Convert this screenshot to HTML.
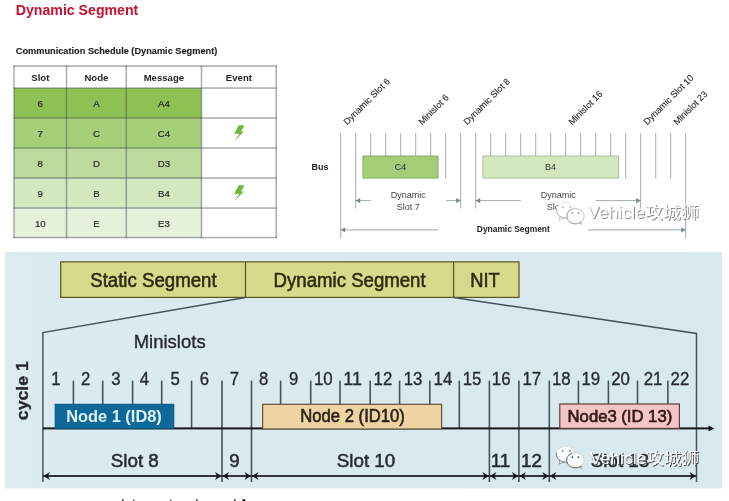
<!DOCTYPE html>
<html><head><meta charset="utf-8"><title>Dynamic Segment</title>
<style>
html,body{margin:0;padding:0;background:#fff;}
body{width:729px;height:501px;overflow:hidden;position:relative;font-family:"Liberation Sans","Noto Sans CJK SC",sans-serif;}
svg{position:absolute;left:0;top:0;display:block}
text{font-family:"Liberation Sans","Noto Sans CJK SC",sans-serif}
.b{font-weight:bold}
.m{text-anchor:middle}
</style></head><body>
<svg width="729" height="501" viewBox="0 0 729 501">
<defs>
<linearGradient id="bg" x1="0" x2="1" y1="0" y2="0"><stop offset="0" stop-color="#dbebf0"/><stop offset="0.5" stop-color="#d9e9ef"/><stop offset="1" stop-color="#d7e8ee"/></linearGradient>
<filter id="soft" x="-2%" y="-2%" width="104%" height="104%"><feGaussianBlur stdDeviation="0.6"/></filter>
</defs>

<text x="15.8" y="15.2" class="b" font-size="14.8" fill="#c5112f" textLength="122.5" lengthAdjust="spacingAndGlyphs">Dynamic Segment</text>
<text x="15.8" y="53.5" class="b" font-size="9.7" fill="#1f1f1f" stroke="#1f1f1f" stroke-width="0.15" textLength="201.5" lengthAdjust="spacingAndGlyphs">Communication Schedule (Dynamic Segment)</text>
<rect x="14" y="88" width="187.5" height="30" fill="#8ec154"/>
<rect x="14" y="118" width="187.5" height="30" fill="#a6cf7a"/>
<rect x="14" y="148" width="187.5" height="30" fill="#bcdb9c"/>
<rect x="14" y="178" width="187.5" height="30" fill="#d4e8bf"/>
<rect x="14" y="208" width="187.5" height="29.5" fill="#e5f1d9"/>
<rect x="13.3" y="65.3" width="263.6" height="1.5" fill="rgba(66,76,82,0.46)"/>
<rect x="13.3" y="87.3" width="263.6" height="1.5" fill="rgba(66,76,82,0.46)"/>
<rect x="13.3" y="117.3" width="263.6" height="1.5" fill="rgba(66,76,82,0.46)"/>
<rect x="13.3" y="147.3" width="263.6" height="1.5" fill="rgba(66,76,82,0.46)"/>
<rect x="13.3" y="177.3" width="263.6" height="1.5" fill="rgba(66,76,82,0.46)"/>
<rect x="13.3" y="207.3" width="263.6" height="1.5" fill="rgba(66,76,82,0.46)"/>
<rect x="13.3" y="236.8" width="263.6" height="1.5" fill="rgba(66,76,82,0.46)"/>
<rect x="13.25" y="65.3" width="1.5" height="173" fill="rgba(66,76,82,0.46)"/>
<rect x="65.75" y="65.3" width="1.5" height="173" fill="rgba(66,76,82,0.46)"/>
<rect x="125.55" y="65.3" width="1.5" height="173" fill="rgba(66,76,82,0.46)"/>
<rect x="200.75" y="65.3" width="1.5" height="173" fill="rgba(66,76,82,0.46)"/>
<rect x="275.45" y="65.3" width="1.5" height="173" fill="rgba(66,76,82,0.46)"/>
<text x="40.3" y="81" class="b m" font-size="9.6" fill="#1f1f1f">Slot</text>
<text x="96.4" y="81" class="b m" font-size="9.6" fill="#1f1f1f">Node</text>
<text x="163.9" y="81" class="b m" font-size="9.6" fill="#1f1f1f">Message</text>
<text x="238.9" y="81" class="b m" font-size="9.6" fill="#1f1f1f">Event</text>
<text x="40.3" y="107.2" class="m" font-size="9.7" fill="#262626" stroke="#262626" stroke-width="0.18">6</text>
<text x="96.4" y="107.2" class="m" font-size="9.7" fill="#262626" stroke="#262626" stroke-width="0.18">A</text>
<text x="163.9" y="107.2" class="m" font-size="9.7" fill="#262626" stroke="#262626" stroke-width="0.18">A4</text>
<text x="40.3" y="137.2" class="m" font-size="9.7" fill="#262626" stroke="#262626" stroke-width="0.18">7</text>
<text x="96.4" y="137.2" class="m" font-size="9.7" fill="#262626" stroke="#262626" stroke-width="0.18">C</text>
<text x="163.9" y="137.2" class="m" font-size="9.7" fill="#262626" stroke="#262626" stroke-width="0.18">C4</text>
<text x="40.3" y="167.2" class="m" font-size="9.7" fill="#262626" stroke="#262626" stroke-width="0.18">8</text>
<text x="96.4" y="167.2" class="m" font-size="9.7" fill="#262626" stroke="#262626" stroke-width="0.18">D</text>
<text x="163.9" y="167.2" class="m" font-size="9.7" fill="#262626" stroke="#262626" stroke-width="0.18">D3</text>
<text x="40.3" y="197.2" class="m" font-size="9.7" fill="#262626" stroke="#262626" stroke-width="0.18">9</text>
<text x="96.4" y="197.2" class="m" font-size="9.7" fill="#262626" stroke="#262626" stroke-width="0.18">B</text>
<text x="163.9" y="197.2" class="m" font-size="9.7" fill="#262626" stroke="#262626" stroke-width="0.18">B4</text>
<text x="40.3" y="227.2" class="m" font-size="9.7" fill="#262626" stroke="#262626" stroke-width="0.18">10</text>
<text x="96.4" y="227.2" class="m" font-size="9.7" fill="#262626" stroke="#262626" stroke-width="0.18">E</text>
<text x="163.9" y="227.2" class="m" font-size="9.7" fill="#262626" stroke="#262626" stroke-width="0.18">E3</text>
<polygon fill="#6fb73f" points="238.7,125.2 244.4,125.2 241.1,131.6 243.9,131.6 234.2,141.3 239.2,133.9 234.2,133.7"/>
<polygon fill="#6fb73f" points="238.7,185.2 244.4,185.2 241.1,191.6 243.9,191.6 234.2,201.3 239.2,193.9 234.2,193.7"/>
<rect x="340.2" y="133" width="1" height="105.4" fill="#a3abaf"/>
<rect x="355.2" y="133" width="1" height="75.4" fill="#a3abaf"/>
<rect x="370.2" y="133" width="1" height="23" fill="#a3abaf"/>
<rect x="385.2" y="133" width="1" height="23" fill="#a3abaf"/>
<rect x="400.2" y="133" width="1" height="23" fill="#a3abaf"/>
<rect x="415.2" y="133" width="1" height="23" fill="#a3abaf"/>
<rect x="430.2" y="133" width="1" height="23" fill="#a3abaf"/>
<rect x="445.2" y="133" width="1" height="45.400000000000006" fill="#a3abaf"/>
<rect x="460.2" y="133" width="1" height="75.4" fill="#a3abaf"/>
<rect x="475.2" y="133" width="1" height="75.4" fill="#a3abaf"/>
<rect x="490.2" y="133" width="1" height="23" fill="#a3abaf"/>
<rect x="505.2" y="133" width="1" height="23" fill="#a3abaf"/>
<rect x="520.2" y="133" width="1" height="23" fill="#a3abaf"/>
<rect x="535.2" y="133" width="1" height="23" fill="#a3abaf"/>
<rect x="550.2" y="133" width="1" height="23" fill="#a3abaf"/>
<rect x="565.2" y="133" width="1" height="23" fill="#a3abaf"/>
<rect x="580.2" y="133" width="1" height="23" fill="#a3abaf"/>
<rect x="595.2" y="133" width="1" height="23" fill="#a3abaf"/>
<rect x="610.2" y="133" width="1" height="23" fill="#a3abaf"/>
<rect x="625.2" y="133" width="1" height="45.400000000000006" fill="#a3abaf"/>
<rect x="640.2" y="133" width="1" height="75.4" fill="#a3abaf"/>
<rect x="655.2" y="133" width="1" height="45.400000000000006" fill="#a3abaf"/>
<rect x="670.2" y="133" width="1" height="45.400000000000006" fill="#a3abaf"/>
<rect x="685.2" y="133" width="1" height="105.4" fill="#a3abaf"/>
<rect x="362.9" y="156" width="75.2" height="22.1" fill="#a4cd78" stroke="#7f9f62" stroke-width="0.8"/>
<rect x="482.9" y="156" width="135.7" height="22.1" fill="#d4e8bf" stroke="#9db08b" stroke-width="0.8"/>
<text x="400.6" y="170" class="m" font-size="9" fill="#2b2b2b">C4</text>
<text x="550.6" y="170" class="m" font-size="9" fill="#2b2b2b">B4</text>
<text x="311.5" y="169.9" class="b" font-size="9.6" fill="#222" textLength="17" lengthAdjust="spacingAndGlyphs">Bus</text>
<text transform="translate(347.2,125.5) rotate(-45)" font-size="9.15" fill="#2a2a2a" stroke="#2a2a2a" stroke-width="0.12">Dynamic Slot 6</text>
<text transform="translate(422.2,125.5) rotate(-45)" font-size="9.15" fill="#2a2a2a" stroke="#2a2a2a" stroke-width="0.12">Minislot 6</text>
<text transform="translate(467.2,125.5) rotate(-45)" font-size="9.15" fill="#2a2a2a" stroke="#2a2a2a" stroke-width="0.12">Dynamic Slot 8</text>
<text transform="translate(572.2,125.5) rotate(-45)" font-size="9.15" fill="#2a2a2a" stroke="#2a2a2a" stroke-width="0.12">Minislot 16</text>
<text transform="translate(647.2,125.5) rotate(-45)" font-size="9.15" fill="#2a2a2a" stroke="#2a2a2a" stroke-width="0.12">Dynamic Slot 10</text>
<text transform="translate(677.2,125.5) rotate(-45)" font-size="9.15" fill="#2a2a2a" stroke="#2a2a2a" stroke-width="0.12">Minislot 23</text>
<rect x="355.7" y="200.1" width="14.9" height="1" fill="#a3abaf"/><polygon fill="#7c878d" points="355.7,200.6 360.2,198.0 360.2,203.2"/>
<rect x="446.0" y="200.1" width="14.7" height="1" fill="#a3abaf"/><polygon fill="#7c878d" points="460.7,200.6 456.2,198.0 456.2,203.2"/>
<rect x="475.7" y="200.1" width="45.1" height="1" fill="#a3abaf"/><polygon fill="#7c878d" points="475.7,200.6 480.2,198.0 480.2,203.2"/>
<rect x="595.8" y="200.1" width="44.9" height="1" fill="#a3abaf"/><polygon fill="#7c878d" points="640.7,200.6 636.2,198.0 636.2,203.2"/>
<rect x="340.7" y="229.4" width="97.6" height="1" fill="#a3abaf"/><polygon fill="#7c878d" points="340.7,229.9 345.2,227.3 345.2,232.5"/>
<rect x="587.8" y="229.4" width="97.9" height="1" fill="#a3abaf"/><polygon fill="#7c878d" points="685.7,229.9 681.2,227.3 681.2,232.5"/>
<text x="408.2" y="198.3" class="m" font-size="9" fill="#444">Dynamic</text>
<text x="408.2" y="209.6" class="m" font-size="9" fill="#444">Slot 7</text>
<text x="558.2" y="198.3" class="m" font-size="9" fill="#444">Dynamic</text>
<text x="558.2" y="209.6" class="m" font-size="9" fill="#444">Slot 9</text>
<text x="476.8" y="232.2" class="b" font-size="9" fill="#222" textLength="73" lengthAdjust="spacingAndGlyphs">Dynamic Segment</text>
<g transform="translate(556.6,202.6)"><path d="M3.6 13 L2.6 17.6 L8.4 15 Z" fill="#fff" stroke="#9a9a9a" stroke-width="0.6" stroke-opacity="0.8"/><ellipse cx="9.2" cy="7.6" rx="9.3" ry="7.9" fill="#fff" stroke="#9a9a9a" stroke-width="0.5" stroke-opacity="0.45"/><path d="M0.04 6.2 A9.3 7.9 0 0 0 10.8 15.4" fill="none" stroke="#9a9a9a" stroke-width="0.8" stroke-opacity="0.85"/><path d="M22 19.2 L25 22 L24.6 17.4 Z" fill="#fff" stroke="#9a9a9a" stroke-width="0.6" stroke-opacity="0.8"/><ellipse cx="18.9" cy="13.6" rx="8.7" ry="7.7" fill="#fff" stroke="#9a9a9a" stroke-width="0.6" stroke-opacity="0.8999999999999999"/><path d="M15.9 6.4 A8.7 7.7 0 1 0 24.5 19.5" fill="none" stroke="#9a9a9a" stroke-width="0.9" stroke-opacity="0.9"/><circle cx="6.2" cy="4.4" r="0.9" fill="#9a9a9a" opacity="0.8"/><circle cx="13.6" cy="4.4" r="0.9" fill="#9a9a9a" opacity="0.8"/><circle cx="15.9" cy="10.6" r="0.9" fill="#9a9a9a"/><circle cx="22" cy="10.6" r="0.9" fill="#9a9a9a"/></g><text x="588.5" y="219.29999999999998" font-size="16" fill="#8b8b8b" textLength="111.3" lengthAdjust="spacingAndGlyphs">Vehicle攻城狮</text><text x="587.6" y="218.4" font-size="16" fill="#fff" textLength="111.3" lengthAdjust="spacingAndGlyphs">Vehicle攻城狮</text>
<g filter="url(#soft)">
<rect x="5" y="252" width="717" height="236.4" fill="url(#bg)"/>
<rect x="60.7" y="261.9" width="458.3" height="35.5" fill="#d8da8b" stroke="#55541f" stroke-width="1.2"/>
<rect x="244.9" y="261.9" width="1.2" height="35.5" fill="#55541f"/>
<rect x="453" y="261.9" width="1.2" height="35.5" fill="#55541f"/>
<text x="90.2" y="286.5" font-size="20.2" fill="#2b2b0e" stroke="#2b2b0e" stroke-width="0.55" textLength="126.5" lengthAdjust="spacingAndGlyphs">Static Segment</text>
<text x="273.6" y="286.5" font-size="20.2" fill="#2b2b0e" stroke="#2b2b0e" stroke-width="0.55" textLength="152" lengthAdjust="spacingAndGlyphs">Dynamic Segment</text>
<text x="470.2" y="286.5" font-size="20.2" fill="#2b2b0e" stroke="#2b2b0e" stroke-width="0.55" textLength="29.5" lengthAdjust="spacingAndGlyphs">NIT</text>
<polyline points="245.5,297.6 42.9,332.6 42.9,482" fill="none" stroke="#46535c" stroke-width="1.5"/>
<polyline points="453.6,297.6 696.5,333.5 696.5,482" fill="none" stroke="#46535c" stroke-width="1.5"/>
<text x="133.7" y="348.2" font-size="18.4" fill="#262b2f" stroke="#262b2f" stroke-width="0.35" textLength="72" lengthAdjust="spacingAndGlyphs">Minislots</text>
<text transform="translate(28.4,420.2) rotate(-90)" class="b" font-size="15.6" fill="#262b2f" stroke="#262b2f" stroke-width="0.3" textLength="59" lengthAdjust="spacingAndGlyphs">cycle 1</text>
<rect x="72.6" y="380.6" width="1.6" height="47.39999999999998" fill="#46535c"/>
<rect x="101.9" y="380.6" width="1.6" height="47.39999999999998" fill="#46535c"/>
<rect x="131.8" y="380.6" width="1.6" height="47.39999999999998" fill="#46535c"/>
<rect x="160.9" y="380.6" width="1.6" height="47.39999999999998" fill="#46535c"/>
<rect x="190.8" y="380.6" width="1.6" height="47.39999999999998" fill="#46535c"/>
<rect x="221.2" y="380.6" width="1.6" height="101.39999999999998" fill="#46535c"/>
<rect x="250.7" y="380.6" width="1.6" height="101.39999999999998" fill="#46535c"/>
<rect x="279.8" y="380.6" width="1.6" height="47.39999999999998" fill="#46535c"/>
<rect x="309.9" y="380.6" width="1.6" height="47.39999999999998" fill="#46535c"/>
<rect x="339.2" y="380.6" width="1.6" height="47.39999999999998" fill="#46535c"/>
<rect x="369.4" y="380.6" width="1.6" height="47.39999999999998" fill="#46535c"/>
<rect x="398.8" y="380.6" width="1.6" height="47.39999999999998" fill="#46535c"/>
<rect x="429.0" y="380.6" width="1.6" height="47.39999999999998" fill="#46535c"/>
<rect x="458.5" y="380.6" width="1.6" height="47.39999999999998" fill="#46535c"/>
<rect x="488.6" y="380.6" width="1.6" height="101.39999999999998" fill="#46535c"/>
<rect x="518.1" y="380.6" width="1.6" height="101.39999999999998" fill="#46535c"/>
<rect x="548.5" y="380.6" width="1.6" height="101.39999999999998" fill="#46535c"/>
<rect x="577.6" y="380.6" width="1.6" height="47.39999999999998" fill="#46535c"/>
<rect x="607.6" y="380.6" width="1.6" height="47.39999999999998" fill="#46535c"/>
<rect x="636.7" y="380.6" width="1.6" height="47.39999999999998" fill="#46535c"/>
<rect x="667.1" y="380.6" width="1.6" height="47.39999999999998" fill="#46535c"/>
<text x="55.9" y="384.6" class="m" font-size="18.6" fill="#262b2f" stroke="#262b2f" stroke-width="0.35" textLength="9.3" lengthAdjust="spacingAndGlyphs">1</text>
<text x="85.6" y="384.6" class="m" font-size="18.6" fill="#262b2f" stroke="#262b2f" stroke-width="0.35" textLength="9.3" lengthAdjust="spacingAndGlyphs">2</text>
<text x="115.8" y="384.6" class="m" font-size="18.6" fill="#262b2f" stroke="#262b2f" stroke-width="0.35" textLength="9.3" lengthAdjust="spacingAndGlyphs">3</text>
<text x="144.4" y="384.6" class="m" font-size="18.6" fill="#262b2f" stroke="#262b2f" stroke-width="0.35" textLength="9.3" lengthAdjust="spacingAndGlyphs">4</text>
<text x="175.2" y="384.6" class="m" font-size="18.6" fill="#262b2f" stroke="#262b2f" stroke-width="0.35" textLength="9.3" lengthAdjust="spacingAndGlyphs">5</text>
<text x="204.3" y="384.6" class="m" font-size="18.6" fill="#262b2f" stroke="#262b2f" stroke-width="0.35" textLength="9.3" lengthAdjust="spacingAndGlyphs">6</text>
<text x="234.4" y="384.6" class="m" font-size="18.6" fill="#262b2f" stroke="#262b2f" stroke-width="0.35" textLength="9.3" lengthAdjust="spacingAndGlyphs">7</text>
<text x="263.6" y="384.6" class="m" font-size="18.6" fill="#262b2f" stroke="#262b2f" stroke-width="0.35" textLength="9.3" lengthAdjust="spacingAndGlyphs">8</text>
<text x="293.7" y="384.6" class="m" font-size="18.6" fill="#262b2f" stroke="#262b2f" stroke-width="0.35" textLength="9.3" lengthAdjust="spacingAndGlyphs">9</text>
<text x="323.3" y="384.6" class="m" font-size="18.6" fill="#262b2f" stroke="#262b2f" stroke-width="0.35" textLength="18.7" lengthAdjust="spacingAndGlyphs">10</text>
<text x="352.7" y="384.6" class="m" font-size="18.6" fill="#262b2f" stroke="#262b2f" stroke-width="0.35" textLength="18.7" lengthAdjust="spacingAndGlyphs">11</text>
<text x="382.9" y="384.6" class="m" font-size="18.6" fill="#262b2f" stroke="#262b2f" stroke-width="0.35" textLength="18.7" lengthAdjust="spacingAndGlyphs">12</text>
<text x="413.1" y="384.6" class="m" font-size="18.6" fill="#262b2f" stroke="#262b2f" stroke-width="0.35" textLength="18.7" lengthAdjust="spacingAndGlyphs">13</text>
<text x="442.9" y="384.6" class="m" font-size="18.6" fill="#262b2f" stroke="#262b2f" stroke-width="0.35" textLength="18.7" lengthAdjust="spacingAndGlyphs">14</text>
<text x="472.1" y="384.6" class="m" font-size="18.6" fill="#262b2f" stroke="#262b2f" stroke-width="0.35" textLength="18.7" lengthAdjust="spacingAndGlyphs">15</text>
<text x="501.2" y="384.6" class="m" font-size="18.6" fill="#262b2f" stroke="#262b2f" stroke-width="0.35" textLength="18.7" lengthAdjust="spacingAndGlyphs">16</text>
<text x="531.8" y="384.6" class="m" font-size="18.6" fill="#262b2f" stroke="#262b2f" stroke-width="0.35" textLength="18.7" lengthAdjust="spacingAndGlyphs">17</text>
<text x="561.3" y="384.6" class="m" font-size="18.6" fill="#262b2f" stroke="#262b2f" stroke-width="0.35" textLength="18.7" lengthAdjust="spacingAndGlyphs">18</text>
<text x="590.8" y="384.6" class="m" font-size="18.6" fill="#262b2f" stroke="#262b2f" stroke-width="0.35" textLength="18.7" lengthAdjust="spacingAndGlyphs">19</text>
<text x="620.6" y="384.6" class="m" font-size="18.6" fill="#262b2f" stroke="#262b2f" stroke-width="0.35" textLength="18.7" lengthAdjust="spacingAndGlyphs">20</text>
<text x="653.1" y="384.6" class="m" font-size="18.6" fill="#262b2f" stroke="#262b2f" stroke-width="0.35" textLength="18.7" lengthAdjust="spacingAndGlyphs">21</text>
<text x="679.9" y="384.6" class="m" font-size="18.6" fill="#262b2f" stroke="#262b2f" stroke-width="0.35" textLength="18.7" lengthAdjust="spacingAndGlyphs">22</text>
<rect x="42.9" y="427.4" width="666.1" height="2" fill="#15181a"/>
<polygon points="714.5,428.4 708.5,425.6 708.5,431.2" fill="#15181a"/>
<rect x="55.2" y="404.3" width="118.6" height="24.4" fill="#10699a" stroke="#0d5279" stroke-width="1"/>
<text x="66.2" y="422.4" class="b" font-size="16.6" fill="#dff2fc" textLength="95.6" lengthAdjust="spacingAndGlyphs">Node 1 (ID8)</text>
<rect x="262.6" y="404.3" width="179" height="24.7" fill="#efd3a4" stroke="#5e5238" stroke-width="1.2"/>
<text x="300.3" y="422.2" font-size="17.6" fill="#2a2418" stroke="#2a2418" stroke-width="0.6" textLength="104.6" lengthAdjust="spacingAndGlyphs">Node 2 (ID10)</text>
<rect x="559.8" y="404" width="119.6" height="24.4" fill="#f5c5c3" stroke="#5e3e3c" stroke-width="1.2"/>
<text x="567.6" y="421.7" font-size="17.4" fill="#351818" stroke="#351818" stroke-width="0.7" textLength="104.6" lengthAdjust="spacingAndGlyphs">Node3 (ID 13)</text>
<text x="134.8" y="467.2" class="m" font-size="18.8" fill="#262b2f" stroke="#262b2f" stroke-width="0.5">Slot 8</text>
<text x="234.4" y="467.2" class="m" font-size="18.8" fill="#262b2f" stroke="#262b2f" stroke-width="0.5">9</text>
<text x="366" y="467.2" class="m" font-size="18.8" fill="#262b2f" stroke="#262b2f" stroke-width="0.5">Slot 10</text>
<text x="500.5" y="467.2" class="m" font-size="18.8" fill="#262b2f" stroke="#262b2f" stroke-width="0.5">11</text>
<text x="531.5" y="467.2" class="m" font-size="18.8" fill="#262b2f" stroke="#262b2f" stroke-width="0.5">12</text>
<text x="620" y="467.2" class="m" font-size="18.8" fill="#262b2f" stroke="#262b2f" stroke-width="0.5">Slot 13</text>
<rect x="42.9" y="475" width="179.1" height="2" fill="#2d363b"/><polygon fill="#15181a" points="43.5,476 49.9,472 47.9,476 49.9,480"/><polygon fill="#15181a" points="221.4,476 215.0,472 217.0,476 215.0,480"/>
<rect x="222.0" y="475" width="29.5" height="2" fill="#2d363b"/><polygon fill="#15181a" points="222.6,476 229.0,472 227.0,476 229.0,480"/><polygon fill="#15181a" points="250.9,476 244.5,472 246.5,476 244.5,480"/>
<rect x="251.5" y="475" width="237.89999999999998" height="2" fill="#2d363b"/><polygon fill="#15181a" points="252.1,476 258.5,472 256.5,476 258.5,480"/><polygon fill="#15181a" points="488.79999999999995,476 482.4,472 484.4,476 482.4,480"/>
<rect x="489.4" y="475" width="29.5" height="2" fill="#2d363b"/><polygon fill="#15181a" points="490.0,476 496.4,472 494.4,476 496.4,480"/><polygon fill="#15181a" points="518.3,476 511.9,472 513.9,476 511.9,480"/>
<rect x="518.9" y="475" width="30.399999999999977" height="2" fill="#2d363b"/><polygon fill="#15181a" points="519.5,476 525.9,472 523.9,476 525.9,480"/><polygon fill="#15181a" points="548.6999999999999,476 542.3,472 544.3,476 542.3,480"/>
<rect x="549.3" y="475" width="147.20000000000005" height="2" fill="#2d363b"/><polygon fill="#15181a" points="549.9,476 556.3,472 554.3,476 556.3,480"/><polygon fill="#15181a" points="695.9,476 689.5,472 691.5,476 689.5,480"/>
</g>
<g transform="translate(556.4,446.6)"><path d="M3.6 13 L2.6 17.6 L8.4 15 Z" fill="#fff" stroke="#4a4f53" stroke-width="0.6" stroke-opacity="0.8"/><ellipse cx="9.2" cy="7.6" rx="9.3" ry="7.9" fill="#fff" stroke="#4a4f53" stroke-width="0.5" stroke-opacity="0.25"/><path d="M0.04 6.2 A9.3 7.9 0 0 0 10.8 15.4" fill="none" stroke="#4a4f53" stroke-width="0.8" stroke-opacity="0.85"/><path d="M22 19.2 L25 22 L24.6 17.4 Z" fill="#fff" stroke="#4a4f53" stroke-width="0.6" stroke-opacity="0.8"/><ellipse cx="18.9" cy="13.6" rx="8.7" ry="7.7" fill="#fff" stroke="#4a4f53" stroke-width="0.6" stroke-opacity="0.3"/><path d="M15.9 6.4 A8.7 7.7 0 1 0 24.5 19.5" fill="none" stroke="#4a4f53" stroke-width="0.9" stroke-opacity="0.9"/><circle cx="6.2" cy="4.4" r="0.9" fill="#4a4f53" opacity="0.8"/><circle cx="13.6" cy="4.4" r="0.9" fill="#4a4f53" opacity="0.8"/><circle cx="15.9" cy="10.6" r="0.9" fill="#4a4f53"/><circle cx="22" cy="10.6" r="0.9" fill="#4a4f53"/></g><text x="590.5999999999999" y="465.3" font-size="16" fill="#4a4f53" textLength="109.5" lengthAdjust="spacingAndGlyphs">Vehicle攻城狮</text><text x="589.6999999999999" y="464.40000000000003" font-size="16" fill="#fff" textLength="109.5" lengthAdjust="spacingAndGlyphs">Vehicle攻城狮</text>
<text transform="translate(114.5,506.5) scale(1,0.7)" font-size="14.5" fill="#222" stroke="#222" stroke-width="0.15" textLength="133.8" lengthAdjust="spacingAndGlyphs">slot counter channel A</text>
</svg></body></html>
